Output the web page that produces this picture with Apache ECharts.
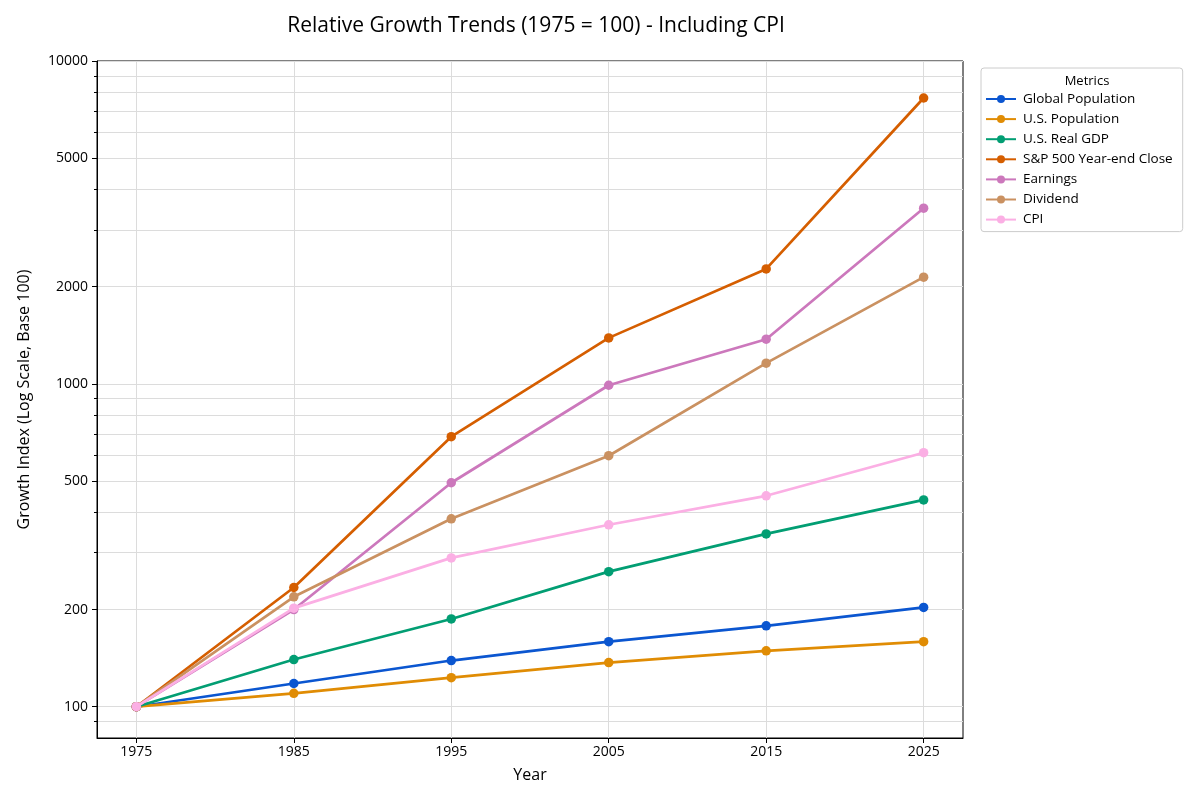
<!DOCTYPE html>
<html>
<head>
<meta charset="utf-8">
<script src="https://cdn.jsdelivr.net/npm/echarts@6/dist/echarts.min.js"></script>
<style>html,body{margin:0;padding:0;background:#fff;}#c{width:1200px;height:800px;}</style>
</head>
<body>
<div id="c"></div>
<script>
const years = [1975, 1985, 1995, 2005, 2015, 2025];
const globalPopulation = [100, 118, 139, 159, 178, 203];
const usPopulation = [100, 110, 123, 137, 149, 159];
const usRealGDP = [100, 140, 187, 262, 343, 437];
const sp500Close = [100, 234, 686, 1388, 2270, 7680];
const earnings = [100, 200, 494, 990, 1375, 3500];
const dividend = [100, 219, 382, 599, 1159, 2140];
const cpi = [100, 202, 289, 366, 450, 612];

const seriesNames = ['Global Population', 'U.S. Population', 'U.S. Real GDP', 'S&P 500 Year-end Close', 'Earnings', 'Dividend', 'CPI'];
const seriesValues = [globalPopulation, usPopulation, usRealGDP, sp500Close, earnings, dividend, cpi];
const colors = ['#0b56d0', '#e08c04', '#029e73', '#d55e00', '#cc78bc', '#ca9161', '#fbafe4'];

const yMajorTicks = [100, 200, 500, 1000, 2000, 5000, 10000];
const yMinorTicks = [90, 300, 400, 600, 700, 800, 900, 3000, 4000, 6000, 7000, 8000, 9000];
const xTicks = [1975, 1985, 1995, 2005, 2015, 2025];

const FONT = '"Open Sans"';
const chart = echarts.init(document.getElementById('c'), null, {renderer: 'canvas'});

const series = seriesNames.map((name, i) => ({
  name: name,
  type: 'line',
  xAxisIndex: 0,
  yAxisIndex: 0,
  data: years.map((y, j) => [y, seriesValues[i][j]]),
  symbol: 'circle',
  symbolSize: 9.5,
  showSymbol: true,
  lineStyle: {width: 2.7, color: colors[i]},
  itemStyle: {color: colors[i]},
  emphasis: {disabled: true},
  animation: false,
  z: 2 + i
}));

const plainNum = v => String(Math.round(v));

const option = {
  backgroundColor: '#ffffff',
  animation: false,
  textStyle: {fontFamily: FONT},
  title: [
    {
      text: 'Relative Growth Trends (1975 = 100) - Including CPI',
      left: 531, top: 11, textAlign: 'center',
      textStyle: {fontFamily: FONT, fontSize: 21, fontWeight: 'normal', color: '#000'}
    },
    {
      text: 'Metrics',
      left: 1082, top: 70, textAlign: 'center',
      textStyle: {fontFamily: FONT, fontSize: 13, fontWeight: 'normal', color: '#000'}
    }
  ],
  legend: {
    orient: 'vertical',
    left: 981, top: 68,
    padding: [24, 10, 5, 4],
    itemWidth: 30, itemHeight: 10,
    itemGap: 6.1,
    borderColor: '#cccccc', borderWidth: 1, borderRadius: 3,
    backgroundColor: '#ffffff',
    textStyle: {fontFamily: FONT, fontSize: 13.5, color: '#000', padding: [0, 0, 0, 2]},
    data: seriesNames
  },
  grid: {
    left: 97, right: 237, top: 61, bottom: 62,
    show: true, borderColor: '#000', borderWidth: 1, backgroundColor: 'transparent',
    containLabel: false
  },
  xAxis: {
    type: 'value',
    min: 1972.5, max: 2027.5,
    name: 'Year', nameLocation: 'middle', nameGap: 29,
    nameTextStyle: {fontFamily: FONT, fontSize: 16, color: '#000'},
    axisLine: {show: true, lineStyle: {color: '#000', width: 1}},
    axisTick: {show: true, customValues: xTicks, length: 5, lineStyle: {color: '#000'}},
    axisLabel: {customValues: xTicks, formatter: plainNum, fontFamily: FONT, fontSize: 14, color: '#000', margin: 7},
    splitLine: {show: true, lineStyle: {color: '#dcdcdc', width: 1}}
  },
  yAxis: [
    {
      type: 'log', logBase: 10, min: 80, max: 10000,
      position: 'left',
      axisLine: {show: true, lineStyle: {color: '#000', width: 1}},
      axisTick: {show: true, customValues: yMajorTicks.concat(yMinorTicks), length: 3, lineStyle: {color: '#000'}},
      axisLabel: {show: false, customValues: yMajorTicks},
      splitLine: {show: true, lineStyle: {color: '#dcdcdc', width: 1}}
    },
    {
      type: 'log', logBase: 10, min: 80, max: 10000,
      position: 'left', offset: 0,
      name: 'Growth Index (Log Scale, Base 100)', nameLocation: 'middle', nameGap: 65,
      nameTextStyle: {fontFamily: FONT, fontSize: 16, color: '#000'},
      axisLine: {show: false},
      axisTick: {show: true, customValues: yMajorTicks, length: 5, lineStyle: {color: '#000'}},
      axisLabel: {customValues: yMajorTicks, formatter: plainNum, fontFamily: FONT, fontSize: 14, color: '#000', margin: 9},
      splitLine: {show: false}
    }
  ],
  series: series
};
chart.setOption(option);
</script>
</body>
</html>
